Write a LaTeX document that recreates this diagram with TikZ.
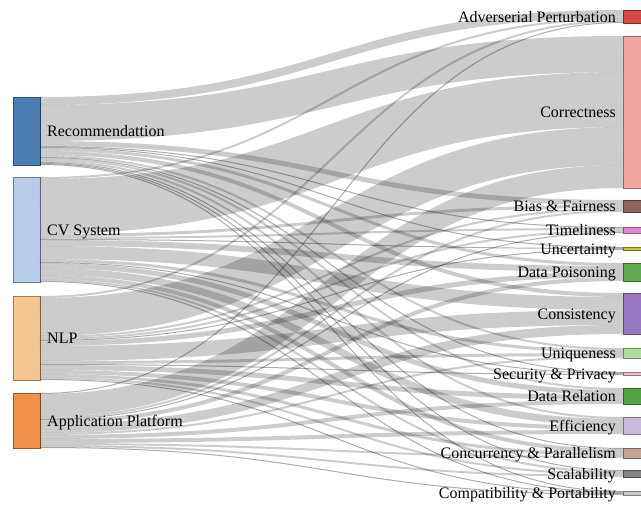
\documentclass[tikz,border=0pt]{standalone}
\usepackage{fontspec}
\setmainfont{Liberation Serif}
\definecolor{cRec}{RGB}{76,126,182}
\definecolor{cCV}{RGB}{184,205,233}
\definecolor{cNLP}{RGB}{246,198,145}
\definecolor{cApp}{RGB}{240,146,74}
\definecolor{cAP}{RGB}{212,72,70}
\definecolor{cCor}{RGB}{243,166,160}
\definecolor{cBias}{RGB}{142,100,92}
\definecolor{cTime}{RGB}{228,138,204}
\definecolor{cUnc}{RGB}{196,196,58}
\definecolor{cDPois}{RGB}{92,170,76}
\definecolor{cCons}{RGB}{152,118,196}
\definecolor{cUniq}{RGB}{176,222,156}
\definecolor{cSec}{RGB}{246,190,212}
\definecolor{cDRel}{RGB}{82,162,68}
\definecolor{cEff}{RGB}{202,184,222}
\definecolor{cConc}{RGB}{200,162,152}
\definecolor{cScal}{RGB}{130,130,130}
\definecolor{cComp}{RGB}{200,200,200}
\tikzset{
  bar/.style={draw=#1!62!black, fill=#1, line width=0.8pt, inner sep=0pt,
    outer sep=0pt, anchor=north west},
  lbl/.style={font=\fontsize{16pt}{19pt}\selectfont, inner sep=0pt, text=black},
  lnk/.style={draw=black, line cap=butt},
}
% #1 source node, #2 values per target (in target order)
\newcommand\sankeyrow[2]{%
  \gdef\skoff{0}%
  \foreach \v [count=\j] in {#2} {%
    \edef\tgt{\csname tname\j\endcsname}%
    \edef\tcv{\csname tcum\j\endcsname}%
    \pgfmathsetmacro\ya{\skoff+\v/2}%
    \pgfmathsetmacro\yb{\tcv+\v/2}%
    \ifdim\v pt>1pt \def\lw{\v}\def\op{0.2}\else\def\lw{1}\def\op{0.32}\fi
    \ifdim\v pt>0pt
      \draw[lnk, line width=\lw pt, draw opacity=\op]
        ([yshift=-\ya pt]#1.north east) .. controls
        ([xshift=291pt,yshift=-\ya pt]#1.north east) and
        ([xshift=-291pt,yshift=-\yb pt]\tgt.north west) ..
        ([yshift=-\yb pt]\tgt.north west);
    \fi
    \pgfmathsetmacro\tmpa{\skoff+\v}\xdef\skoff{\tmpa}%
    \pgfmathsetmacro\tmpb{\tcv+\v}\expandafter\xdef\csname tcum\j\endcsname{\tmpb}%
  }%
}
\begin{document}
\begin{tikzpicture}[x=1pt,y=-1pt]
\useasboundingbox (0,0) rectangle (641,505);
\fill[white] (0,0) rectangle (641,505);
% source nodes
\node[bar=cRec, minimum width=27pt, minimum height=68pt] (R) at (13,97) {};
\node[bar=cCV,  minimum width=27pt, minimum height=105pt] (C) at (13,177) {};
\node[bar=cNLP, minimum width=27pt, minimum height=84pt] (N) at (13,296) {};
\node[bar=cApp, minimum width=27pt, minimum height=55pt] (A) at (13,393) {};
% target nodes
\node[bar=cAP,    minimum width=24pt, minimum height=13pt]  (AP)    at (623,10) {};
\node[bar=cCor,   minimum width=24pt, minimum height=152pt] (Cor)   at (623,36) {};
\node[bar=cBias,  minimum width=24pt, minimum height=12pt]  (Bias)  at (623,200) {};
\node[bar=cTime,  minimum width=24pt, minimum height=6pt]   (Time)  at (623,227) {};
\node[bar=cUnc,   minimum width=24pt, minimum height=3pt]   (Unc)   at (623,247) {};
\node[bar=cDPois, minimum width=24pt, minimum height=18pt]  (DPois) at (623,263) {};
\node[bar=cCons,  minimum width=24pt, minimum height=41pt]  (Cons)  at (623,293) {};
\node[bar=cUniq,  minimum width=24pt, minimum height=10pt]  (Uniq)  at (623,348) {};
\node[bar=cSec,   minimum width=24pt, minimum height=3pt]   (Sec)   at (623,372) {};
\node[bar=cDRel,  minimum width=24pt, minimum height=16pt]  (DRel)  at (623,388) {};
\node[bar=cEff,   minimum width=24pt, minimum height=17pt]  (Eff)   at (623,417) {};
\node[bar=cConc,  minimum width=24pt, minimum height=10pt]  (Conc)  at (623,448) {};
\node[bar=cScal,  minimum width=24pt, minimum height=7pt]   (Scal)  at (623,470) {};
\node[bar=cComp,  minimum width=24pt, minimum height=4pt]   (Comp)  at (623,491) {};
% bookkeeping
\foreach \n [count=\j] in {AP,Cor,Bias,Time,Unc,DPois,Cons,Uniq,Sec,DRel,Eff,Conc,Scal,Comp}
  {\expandafter\xdef\csname tname\j\endcsname{\n}%
   \expandafter\xdef\csname tcum\j\endcsname{0}}
% links
\sankeyrow{R}{8,36,5,1,1,3,4,2,1,2,2,1,1,1}
\sankeyrow{C}{2,55,3,2,1,6,13,3,1,5,7,4,2,1}
\sankeyrow{N}{2,38,2,2,1,5,15,3,1,5,4,3,2,1}
\sankeyrow{A}{1,23,2,1,0,4,9,2,0,4,4,2,2,1}
% labels
\node[lbl, anchor=base west] (lR) at ([xshift=7pt,yshift=-5.6pt]R.east) {Recommendattion};
\node[lbl, anchor=base west] (lC) at ([xshift=7pt,yshift=-5.6pt]C.east) {CV System};
\node[lbl, anchor=base west] (lN) at ([xshift=7pt,yshift=-5.6pt]N.east) {NLP};
\node[lbl, anchor=base west] (lA) at ([xshift=7pt,yshift=-5.6pt]A.east) {Application Platform};
\foreach \n/\t in {AP/Adverserial Perturbation, Cor/Correctness, Bias/Bias \& Fairness,
  Time/Timeliness, Unc/Uncertainty, DPois/Data Poisoning, Cons/Consistency,
  Uniq/Uniqueness, Sec/Security \& Privacy, DRel/Data Relation, Eff/Efficiency,
  Conc/Concurrency \& Parallelism, Scal/Scalability, Comp/Compatibility \& Portability}
  \node[lbl, anchor=base east] (l\n) at ([xshift=-7pt,yshift=-5.6pt]\n.west) {\t};
\end{tikzpicture}
\end{document}
